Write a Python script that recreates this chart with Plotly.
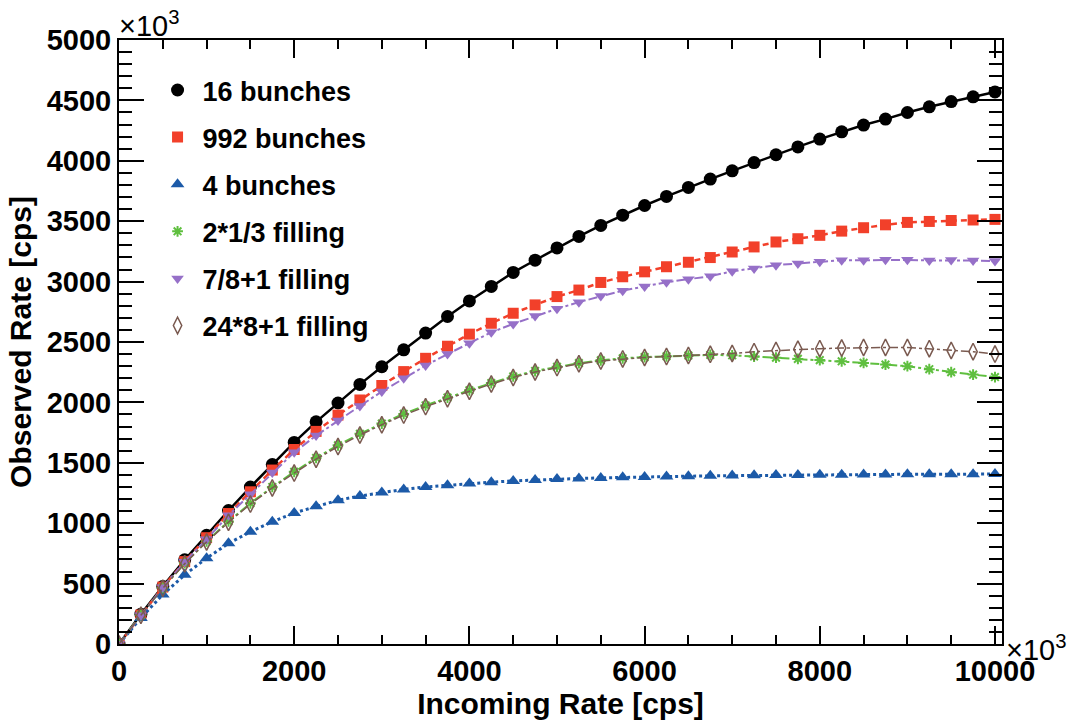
import plotly.graph_objects as go

incoming = [0, 250, 500, 750, 1000, 1250, 1500, 1750, 2000, 2250, 2500, 2750, 3000, 3250,
            3500, 3750, 4000, 4250, 4500, 4750, 5000, 5250, 5500, 5750, 6000, 6250, 6500,
            6750, 7000, 7250, 7500, 7750, 8000, 8250, 8500, 8750, 9000, 9250, 9500, 9750, 10000]

bunches16 = [0, 247, 477, 697, 900, 1105, 1299, 1486, 1669, 1839, 1995, 2149, 2295, 2435,
             2574, 2711, 2840, 2960, 3076, 3177, 3279, 3374, 3465, 3550, 3630, 3705, 3780,
             3849, 3917, 3985, 4050, 4115, 4180, 4240, 4296, 4345, 4400, 4447, 4490, 4530, 4570]
bunches992 = [0, 240, 471, 682, 880, 1080, 1260, 1440, 1610, 1760, 1895, 2020, 2140, 2255,
              2365, 2465, 2565, 2655, 2738, 2807, 2876, 2930, 2993, 3040, 3081, 3123, 3160,
              3199, 3245, 3287, 3328, 3355, 3383, 3418, 3446, 3470, 3490, 3498, 3506, 3510, 3515]
bunches4 = [0, 216, 409, 573, 710, 833, 929, 1011, 1085, 1140, 1190, 1225, 1255, 1280,
            1300, 1315, 1328, 1340, 1350, 1358, 1365, 1370, 1375, 1380, 1383, 1386, 1389,
            1392, 1394, 1396, 1398, 1400, 1401, 1402, 1403, 1404, 1405, 1405, 1406, 1406, 1407]
fill_2x13 = [0, 240, 465, 669, 850, 1015, 1165, 1300, 1425, 1540, 1645, 1740, 1825, 1905,
             1975, 2040, 2100, 2160, 2215, 2260, 2295, 2325, 2348, 2365, 2375, 2382, 2388,
             2393, 2390, 2380, 2370, 2360, 2350, 2340, 2327, 2313, 2300, 2275, 2250, 2230, 2210]
fill_78p1 = [0, 238, 470, 680, 868, 1065, 1240, 1420, 1587, 1725, 1850, 1970, 2090, 2200,
             2305, 2400, 2490, 2580, 2650, 2715, 2775, 2830, 2880, 2925, 2960, 2995, 3020,
             3045, 3085, 3109, 3136, 3150, 3164, 3177, 3177, 3180, 3180, 3175, 3178, 3175, 3170]
fill_24x8p1 = [0, 238, 462, 665, 845, 1008, 1158, 1292, 1415, 1530, 1635, 1730, 1815, 1895,
               1965, 2030, 2092, 2152, 2207, 2252, 2288, 2320, 2343, 2360, 2372, 2380, 2388,
               2398, 2405, 2420, 2430, 2440, 2445, 2450, 2455, 2455, 2455, 2445, 2430, 2420, 2400]

series = [
    ("16 bunches", bunches16, "#000000", "circle", 13, "solid", 2.5, None),
    ("992 bunches", bunches992, "#f2402a", "square", 11, "6px,4px", 2.5, None),
    ("4 bunches", bunches4, "#1c5aa8", "triangle-up", 12, "dot", 3, None),
    ("2*1/3 filling", fill_2x13, "#5fbf3f", "asterisk", 9, "dashdot", 2, 2),
    ("7/8+1 filling", fill_78p1, "#9670c8", "triangle-down", 11, "dashdot", 2, None),
    ("24*8+1 filling", fill_24x8p1, "#7a5a50", "diamond-tall-open", 12, "dashdot", 1.5, 1.5),
]

FONT = "Liberation Sans"
fig = go.Figure()
for i, (name, ys, col, sym, sz, dash, lw, mlw) in enumerate(series):
    marker = dict(symbol=sym, size=sz, color=col)
    if mlw is not None:
        marker["line"] = dict(color=col, width=mlw)
    fig.add_trace(go.Scatter(x=incoming, y=ys, mode="lines", line=dict(color=col, dash=dash, width=lw),
                             showlegend=False, legendgroup=name, hoverinfo="skip"))
    fig.add_trace(go.Scatter(x=incoming, y=ys, mode="markers", marker=marker, name=name,
                             legendgroup=name))

axis_common = dict(
    showline=True, linecolor="black", linewidth=2, mirror="ticks",
    ticks="inside", tickcolor="black", tickwidth=2,
    showgrid=False, zeroline=False, tickformat="d",
    tickfont=dict(family=FONT, size=29, color="black", weight="bold"),
)
fig.update_xaxes(range=[0, 10080], dtick=2000, tick0=0, ticklen=18,
                 minor=dict(dtick=500, ticklen=9, ticks="inside", tickcolor="black", tickwidth=2),
                 title=dict(text="Incoming Rate [cps]", font=dict(family=FONT, size=30, color="black", weight="bold"), standoff=6),
                 **axis_common)
fig.update_yaxes(range=[0, 5000], dtick=500, tick0=0, ticklen=25,
                 minor=dict(dtick=100, ticklen=13, ticks="inside", tickcolor="black", tickwidth=2),
                 title=dict(text="Observed Rate [cps]", font=dict(family=FONT, size=30, color="black", weight="bold"), standoff=6),
                 **axis_common)

fig.add_annotation(text="×10<sup>3</sup>", xref="paper", yref="paper", x=0, y=1, xanchor="left", yanchor="bottom",
                   showarrow=False, font=dict(family=FONT, size=29, color="black"), xshift=-2, yshift=-4)
fig.add_annotation(text="×10<sup>3</sup>", xref="paper", yref="paper", x=1, y=0, xanchor="left", yanchor="middle",
                   showarrow=False, font=dict(family=FONT, size=29, color="black"), xshift=2, yshift=-4)

fig.update_layout(
    width=1074, height=726,
    margin=dict(l=119, r=72, t=40, b=78),
    paper_bgcolor="white", plot_bgcolor="white",
    showlegend=True,
    legend=dict(x=0.038, y=0.957, xanchor="left", yanchor="top", bgcolor="rgba(0,0,0,0)",
                font=dict(family=FONT, size=27, color="black", weight="bold"),
                tracegroupgap=9, itemsizing="trace", itemwidth=40),
)
fig.write_html("out.html")
